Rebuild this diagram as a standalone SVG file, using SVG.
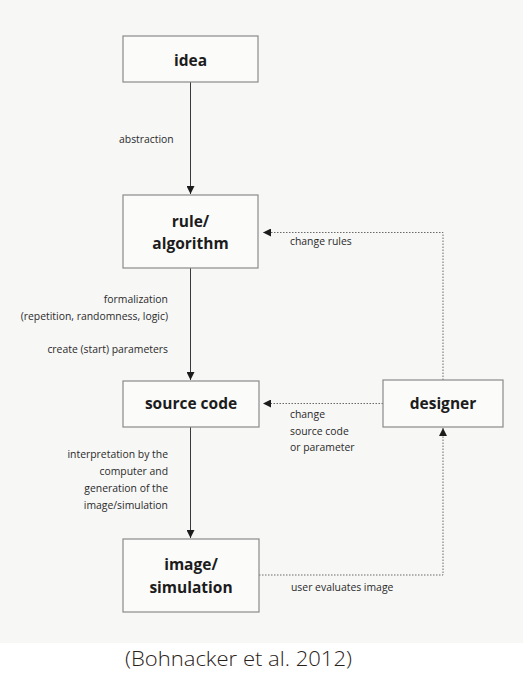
<svg xmlns="http://www.w3.org/2000/svg" width="523" height="698" viewBox="0 0 523 698">
<style>
.box{fill:#fbfbfa;stroke:#8a8a8a;stroke-width:1.2}
.t{font-family:"Open Sans","Noto Sans",sans-serif;font-weight:700;font-size:15.5px;fill:#1c1c1c;text-anchor:middle}
.l{font-family:"Open Sans","Noto Sans",sans-serif;font-size:10.4px;fill:#2a2a2a}
.r{text-anchor:end}
.solid{stroke:#3a3a3a;stroke-width:1;fill:none}
.dot{stroke:#6a6a6a;stroke-width:1;fill:none;stroke-dasharray:1.5 1.5}
</style>
<defs>
<marker id="ah" viewBox="0 0 10 10" refX="10" refY="5" markerWidth="8" markerHeight="8" markerUnits="userSpaceOnUse" orient="auto">
<path d="M0,0 L10,5 L0,10 z" fill="#1c1c1c"/>
</marker>
</defs>
<rect x="0" y="0" width="523" height="643" fill="#f7f7f6"/>
<rect x="0" y="643" width="523" height="55" fill="#ffffff"/>
<g id="connectors">
<line class="solid" x1="190.5" y1="82" x2="190.5" y2="194" marker-end="url(#ah)"/>
<line class="solid" x1="190.5" y1="268" x2="190.5" y2="380" marker-end="url(#ah)"/>
<line class="solid" x1="190.5" y1="427" x2="190.5" y2="538" marker-end="url(#ah)"/>
<polyline class="dot" points="443,380 443,232.5 263,232.5" marker-end="url(#ah)"/>
<line class="dot" x1="383" y1="403.5" x2="263" y2="403.5" marker-end="url(#ah)"/>
<polyline class="dot" points="259,575 443,575 443,428" marker-end="url(#ah)"/>
<text class="l" x="119" y="143">abstraction</text>
<text class="l r" x="168" y="303">formalization</text>
<text class="l r" x="168" y="319.5">(repetition, randomness, logic)</text>
<text class="l r" x="168" y="353">create (start) parameters</text>
<text class="l r" x="168" y="458">interpretation by the</text>
<text class="l r" x="168" y="475">computer and</text>
<text class="l r" x="168" y="492">generation of the</text>
<text class="l r" x="168" y="508.5">image/simulation</text>
<text class="l" x="290" y="245">change rules</text>
<text class="l" x="290" y="418">change</text>
<text class="l" x="290" y="434.5">source code</text>
<text class="l" x="290" y="451">or parameter</text>
<text class="l" x="291" y="591">user evaluates image</text>
</g>
<g id="idea">
<rect class="box" x="123" y="36" width="135" height="46"/>
<text class="t" x="190.5" y="66">idea</text>
</g>
<g id="rule">
<rect class="box" x="123" y="195" width="135" height="73"/>
<text class="t" x="190.5" y="227">rule/</text>
<text class="t" x="190.5" y="249">algorithm</text>
</g>
<g id="source">
<rect class="box" x="123" y="381" width="136" height="46"/>
<text class="t" x="191" y="409">source code</text>
</g>
<g id="designer">
<rect class="box" x="383" y="380" width="120" height="47"/>
<text class="t" x="443" y="408.5">designer</text>
</g>
<g id="image">
<rect class="box" x="123" y="539" width="136" height="73"/>
<text class="t" x="191" y="570">image/</text>
<text class="t" x="191" y="593">simulation</text>
</g>
<text x="125" y="666" font-family="'Open Sans','Noto Sans',sans-serif" font-size="20.5px" font-weight="300" fill="#2a2218" textLength="227" lengthAdjust="spacingAndGlyphs">(Bohnacker et al. 2012)</text>
</svg>
